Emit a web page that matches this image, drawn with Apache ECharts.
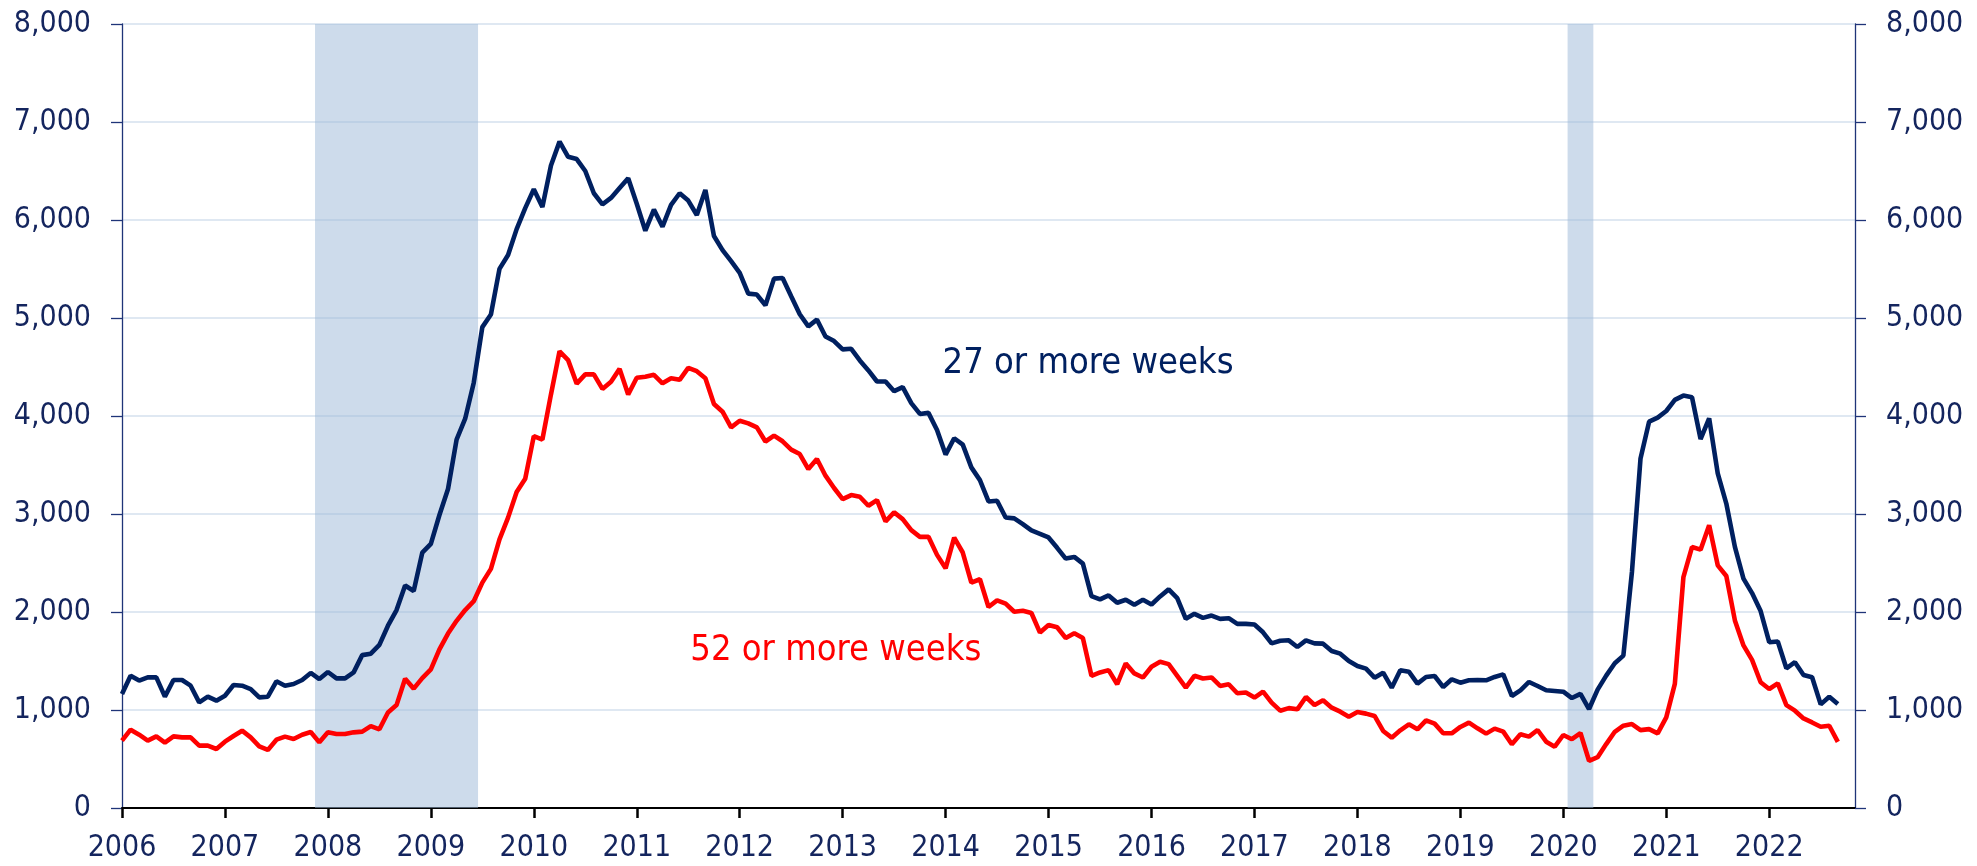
<!DOCTYPE html>
<html lang="en">
  <head>
    <meta charset="UTF-8" />
    <title>Long-term unemployed</title>
    <script src="https://cdn.jsdelivr.net/npm/echarts@6/dist/echarts.min.js"></script>
    <style>
      html, body { margin: 0; padding: 0; background: #fff; }
      #chart { width: 1977px; height: 866px; }
    </style>
  </head>
  <body>
    <div id="chart"></div>
    <script>
      // monthly values from Jan 2006 to Sep 2022 (thousands)
      const startYear = 2006;
      const weeks27 = [
        1163, 1350, 1300, 1333, 1333, 1136, 1306, 1306, 1248, 1078, 1136, 1095,
        1146, 1255, 1248, 1214, 1129, 1136, 1293, 1248, 1265, 1306, 1378, 1316,
        1388, 1323, 1323, 1384, 1560, 1575, 1665, 1860, 2020, 2270, 2215, 2605,
        2695, 2990, 3255, 3758, 3972, 4340, 4907, 5036, 5501, 5642, 5907, 6121,
        6313, 6133, 6556, 6800, 6645, 6622, 6500, 6273, 6160, 6225, 6326, 6427,
        6166, 5891, 6106, 5932, 6154, 6273, 6198, 6051, 6307, 5836, 5693, 5580,
        5461, 5249, 5239, 5130, 5402, 5409, 5222, 5038, 4915, 4983, 4812, 4765,
        4680, 4686, 4567, 4465, 4352, 4352, 4253, 4294, 4131, 4021, 4032, 3858,
        3606, 3773, 3708, 3476, 3346, 3128, 3135, 2965, 2955, 2897, 2832, 2798,
        2761, 2655, 2545, 2562, 2494, 2162, 2128, 2169, 2094, 2125, 2074, 2125,
        2077, 2159, 2231, 2142, 1930, 1981, 1940, 1964, 1930, 1937, 1879, 1879,
        1872, 1793, 1680, 1706, 1711, 1643, 1711, 1680, 1677, 1602, 1575, 1500,
        1449, 1422, 1330, 1381, 1228, 1405, 1391, 1269, 1337, 1347, 1235, 1313,
        1279, 1303, 1306, 1303, 1337, 1364, 1143, 1201, 1286, 1245, 1201, 1194,
        1187, 1122, 1165, 1010, 1208, 1351, 1477, 1555, 2408, 3567, 3942, 3983,
        4051, 4164, 4208, 4191, 3765, 3976, 3414, 3107, 2664, 2340, 2193, 2010,
        1692, 1699, 1426, 1488, 1358, 1334, 1057, 1136, 1061
      ];
      const weeks52 = [
        687, 799, 748, 687, 731, 667, 731, 721, 721, 636, 636, 602,
        677, 735, 789, 721, 629, 592, 697, 728, 704, 748, 776, 670,
        772, 755, 755, 772, 779, 836, 803, 975, 1050, 1318, 1218, 1325,
        1415, 1618, 1780, 1910, 2020, 2110, 2300, 2440, 2741, 2963, 3225, 3360,
        3795, 3760, 4220, 4660, 4570, 4330, 4425, 4425, 4276, 4350, 4481, 4220,
        4390, 4400, 4420, 4334, 4386, 4369, 4491, 4457, 4386, 4123, 4044, 3884,
        3952, 3925, 3884, 3740, 3800, 3742, 3657, 3612, 3459, 3561, 3391, 3265,
        3152, 3193, 3176, 3084, 3142, 2924, 3016, 2948, 2835, 2767, 2767, 2583,
        2446, 2760, 2607, 2300, 2334, 2051, 2119, 2085, 2003, 2012, 1990, 1790,
        1868, 1844, 1735, 1783, 1735, 1349, 1383, 1407, 1263, 1475, 1373, 1332,
        1441, 1492, 1468, 1349, 1229, 1349, 1321, 1332, 1246, 1263, 1171, 1178,
        1127, 1188, 1075, 993, 1019, 1007, 1133, 1051, 1099, 1024, 983, 932,
        980, 963, 939, 786, 718, 793, 854, 803, 895, 861, 762, 762,
        827, 871, 813, 759, 810, 779, 650, 752, 728, 796, 677, 626,
        745, 702, 765, 482, 518, 652, 778, 840, 857, 795, 805, 761,
        925, 1266, 2357, 2663, 2636, 2885, 2476, 2367, 1914, 1659, 1511, 1283,
        1214, 1272, 1050, 993, 914, 873, 829, 839, 675
      ];
      const yearLabels = [
        '2006', '2007', '2008', '2009', '2010', '2011', '2012', '2013', '2014',
        '2015', '2016', '2017', '2018', '2019', '2020', '2021', '2022'
      ];
      const yTicks = [0, 1000, 2000, 3000, 4000, 5000, 6000, 7000, 8000];
      // recession months (first, last)
      const recessions = [['2007-12', '2009-06'], ['2020-02', '2020-04']];

      const navy = '#002060';
      const red = '#ff0000';
      const labelColor = '#14255e';
      const font = 'DejaVu Sans Condensed';

      function monthIndex(s) {
        const [y, m] = s.split('-').map(Number);
        return (y - startYear) * 12 + (m - 1);
      }
      function toPairs(arr) {
        return arr.map((v, i) => [i, v]);
      }
      function fmtThousands(v) {
        return String(v).replace(/\B(?=(\d{3})+(?!\d))/g, ',');
      }

      const chart = echarts.init(document.getElementById('chart'), null, {
        renderer: 'canvas',
      });

      const yAxisBase = {
        type: 'value',
        min: yTicks[0],
        max: yTicks[yTicks.length - 1],
        interval: yTicks[1] - yTicks[0],
        axisLine: { show: true, lineStyle: { color: '#1f3478', width: 1.3 } },
        axisTick: { show: true, length: 11, lineStyle: { color: '#1f3478', width: 1.3 } },
        axisLabel: {
          color: labelColor,
          fontFamily: font,
          fontSize: 30,
          margin: 31,
          formatter: fmtThousands,
        },
      };

      chart.setOption({
        animation: false,
        grid: { left: 122, right: 122, top: 24, bottom: 58 },
        xAxis: {
          type: 'value',
          min: 0,
          max: 202,
          interval: 12,
          axisLine: { show: true, onZero: false, lineStyle: { color: '#000', width: 2.2 } },
          axisTick: { show: true, length: 10, lineStyle: { color: '#000', width: 2.5 } },
          splitLine: { show: false },
          axisLabel: {
            color: labelColor,
            fontFamily: font,
            fontSize: 30,
            margin: 25,
            showMaxLabel: false,
            formatter: (v) => (v % 12 === 0 ? yearLabels[v / 12] || '' : ''),
          },
        },
        yAxis: [
          Object.assign({}, yAxisBase, {
            position: 'left',
            splitLine: { show: true, lineStyle: { color: '#d5e0ee', width: 1.5 } },
          }),
          Object.assign({}, yAxisBase, {
            position: 'right',
            splitLine: { show: false },
          }),
        ],
        series: [
          {
            name: 'recessions',
            type: 'line',
            data: [],
            silent: true,
            z: 1,
            markArea: {
              silent: true,
              itemStyle: { color: 'rgba(155,183,215,0.5)' },
              data: recessions.map((r) => [
                { xAxis: monthIndex(r[0]) - 0.5 },
                { xAxis: monthIndex(r[1]) + 0.5 },
              ]),
            },
          },
          {
            name: '27 or more weeks',
            type: 'line',
            data: toPairs(weeks27),
            showSymbol: false,
            lineStyle: { color: navy, width: 4.6 },
            itemStyle: { color: navy },
            z: 3,
            markPoint: {
              silent: true,
              symbolSize: 1,
              itemStyle: { color: 'rgba(0,0,0,0)' },
              label: {
                show: true,
                position: 'inside',
                color: navy,
                fontFamily: font,
                fontSize: 36,
                formatter: '27 or more weeks',
              },
              data: [{ coord: [112.6, 4526] }],
            },
          },
          {
            name: '52 or more weeks',
            type: 'line',
            data: toPairs(weeks52),
            showSymbol: false,
            lineStyle: { color: red, width: 4.6 },
            itemStyle: { color: red },
            z: 4,
            markPoint: {
              silent: true,
              symbolSize: 1,
              itemStyle: { color: 'rgba(0,0,0,0)' },
              label: {
                show: true,
                position: 'inside',
                color: red,
                fontFamily: font,
                fontSize: 36,
                formatter: '52 or more weeks',
              },
              data: [{ coord: [83.2, 1597] }],
            },
          },
        ],
      });
    </script>
  </body>
</html>
